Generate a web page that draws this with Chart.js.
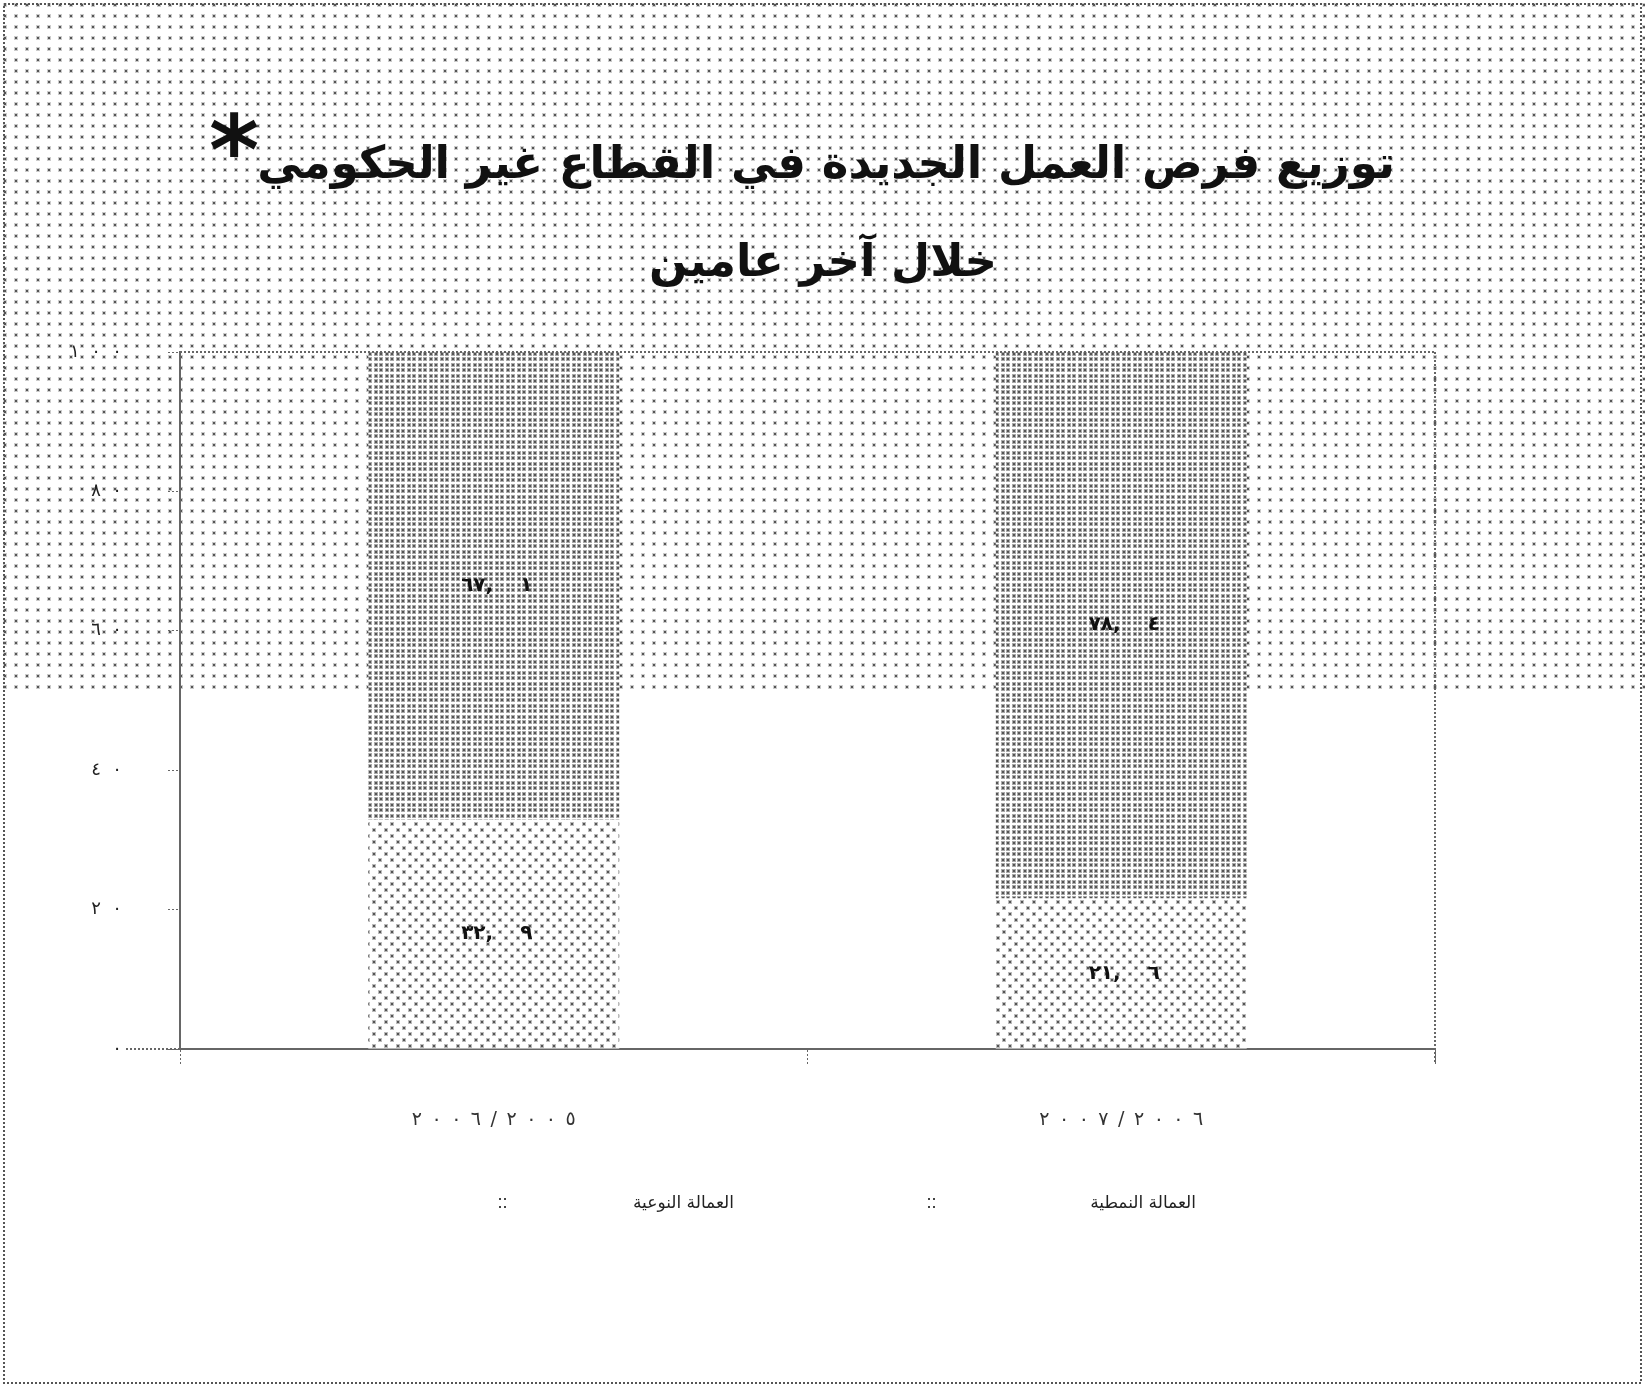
<!DOCTYPE html>
<html lang="ar">
<head>
<meta charset="utf-8">
<script src="https://cdn.jsdelivr.net/npm/chart.js@4.4.1/dist/chart.umd.min.js"></script>
<style>
  html, body { margin: 0; padding: 0; background: #fff; }
  #c { display: block; }
</style>
</head>
<body>
<canvas id="c" width="1645" height="1387"></canvas>
<script>
// ---- data ----
const titleLine1 = 'توزيع فرص العمل الجديدة في القطاع غير الحكومي';
const titleMark = '*';
const titleLine2 = 'خلال آخر عامين';
const categories = ['٢٠٠٦/٢٠٠٥', '٢٠٠٧/٢٠٠٦'];
const seriesNames = ['العمالة النمطية', 'العمالة النوعية'];
const bottomValues = [32.9, 21.6];
const topValues = [67.1, 78.4];
const yTickValues = [0, 20, 40, 60, 80, 100];

// ---- helpers ----
const AR_DIGITS = '٠١٢٣٤٥٦٧٨٩';
const LRO = '\u202D', PDF = '\u202C';
function toAr(v) {
  return String(v).replace(/[0-9]/g, d => AR_DIGITS[+d]);
}
// spread characters apart (the source uses widely spaced digits), keep LTR order
function spread(s, gap) {
  return LRO + Array.from(s).join(gap) + PDF;
}
function toArLabel(v) {
  return LRO + toAr(v).replace('.', ', \u2003') + PDF;
}
function makePattern(w, h, draw) {
  const c = document.createElement('canvas');
  c.width = w; c.height = h;
  const g = c.getContext('2d');
  draw(g);
  return document.getElementById('c').getContext('2d').createPattern(c, 'repeat');
}
function dot(g, x, y, dark, halo) {
  g.fillStyle = halo; g.fillRect(x - 1, y - 1, 4, 4);
  g.fillStyle = dark; g.fillRect(x, y, 2, 2);
}
const bgPattern = makePattern(11, 11, g => { g.fillStyle = '#fff'; g.fillRect(0, 0, 11, 11); dot(g, 4, 4, '#555', '#ccc'); });
const topPattern = makePattern(11, 11, g => {
  g.fillStyle = '#fff'; g.fillRect(0, 0, 11, 11);
  dot(g, 1, 1, '#555', '#aaa'); dot(g, 6, 1, '#555', '#aaa');
  dot(g, 1, 6, '#555', '#aaa'); dot(g, 6, 6, '#555', '#aaa');
});
const bottomPattern = makePattern(12, 12, g => {
  g.fillStyle = '#fff'; g.fillRect(0, 0, 12, 12);
  dot(g, 1, 1, '#555', '#bbb'); dot(g, 7, 7, '#555', '#bbb');
});

const FONT = '"DejaVu Sans", sans-serif';

const decorPlugin = {
  id: 'decor',
  beforeDraw(chart) {
    const ctx = chart.ctx, W = chart.width, H = chart.height;
    ctx.save();
    ctx.fillStyle = '#fff'; ctx.fillRect(0, 0, W, H);
    ctx.fillStyle = bgPattern; ctx.fillRect(0, 0, W, 693);
    ctx.restore();
  },
  afterDraw(chart) {
    const ctx = chart.ctx, W = chart.width, H = chart.height, a = chart.chartArea;
    ctx.save();
    // outer dotted frame
    ctx.strokeStyle = '#555'; ctx.lineWidth = 2; ctx.setLineDash([2, 2]);
    ctx.strokeRect(4, 4, W - 8, H - 8);
    // plot frame top/right + axis extension
    ctx.strokeStyle = '#666';
    ctx.beginPath();
    ctx.moveTo(a.left, a.top); ctx.lineTo(a.right, a.top);
    ctx.moveTo(a.right, a.top); ctx.lineTo(a.right, a.bottom + 14);
    ctx.moveTo(126, a.bottom); ctx.lineTo(a.left, a.bottom);
    ctx.stroke();
    ctx.setLineDash([]);

    // title
    ctx.fillStyle = '#111';
    ctx.textAlign = 'center'; ctx.textBaseline = 'alphabetic';
    ctx.font = 'bold 100px ' + FONT;
    const w100 = ctx.measureText(titleLine1).width;
    const size = 100 * 1138 / w100;
    ctx.font = 'bold ' + size.toFixed(1) + 'px ' + FONT;
    const cx1 = 826;
    ctx.fillText(titleLine1, cx1, 178);
    const lw = ctx.measureText(titleLine1).width;
    ctx.fillText(titleLine2, 823, 276);
    ctx.font = 'bold 96px ' + FONT;
    ctx.textAlign = 'right';
    ctx.fillText(titleMark, cx1 - lw / 2 + 2, 184);

    // legend
    ctx.font = '17px ' + FONT;
    ctx.textAlign = 'right'; ctx.textBaseline = 'middle';
    const legendItems = [
      { text: seriesNames[0], right: 1196, mark: 928 },
      { text: seriesNames[1], right: 734, mark: 499 }
    ];
    legendItems.forEach(it => {
      ctx.fillStyle = '#222';
      ctx.fillText(it.text, it.right, 1204);
      ctx.fillStyle = '#444';
      ctx.fillRect(it.mark, 1198, 2, 2); ctx.fillRect(it.mark + 5, 1198, 2, 2);
      ctx.fillRect(it.mark, 1206, 2, 2); ctx.fillRect(it.mark + 5, 1206, 2, 2);
    });
    ctx.restore();
  },
  afterDatasetsDraw(chart) {
    const ctx = chart.ctx;
    ctx.save();
    ctx.font = 'bold 20px ' + FONT;
    ctx.fillStyle = '#111';
    ctx.textAlign = 'center'; ctx.textBaseline = 'middle';
    chart.data.datasets.forEach((ds, di) => {
      chart.getDatasetMeta(di).data.forEach((el, i) => {
        const y = (el.y + el.base) / 2;
        ctx.fillText(toArLabel(ds.data[i]), el.x + 3, y);
      });
    });
    ctx.restore();
  }
};

new Chart(document.getElementById('c'), {
  type: 'bar',
  data: {
    labels: categories,
    datasets: [
      { label: seriesNames[0], data: bottomValues, backgroundColor: bottomPattern, borderWidth: 0 },
      { label: seriesNames[1], data: topValues, backgroundColor: topPattern, borderWidth: 0 }
    ]
  },
  options: {
    responsive: false,
    devicePixelRatio: 1,
    animation: false,
    layout: { padding: { top: 352, right: 210, left: 0, bottom: 0 } },
    datasets: { bar: { categoryPercentage: 1, barPercentage: 0.4 } },
    plugins: { legend: { display: false }, title: { display: false }, tooltip: { enabled: false } },
    scales: {
      x: {
        stacked: true,
        grid: { offset: true, drawOnChartArea: false, drawTicks: true, tickLength: 16, color: '#666', tickBorderDash: [2, 2] },
        border: { display: true, color: '#666', width: 2, dash: [2, 3] },
        ticks: {
          padding: 44, color: '#333', font: { family: FONT, size: 19 },
          callback: function (v) { return spread(this.getLabelForValue(v), '\u2002'); }
        },
        afterFit: s => { s.height = 338; }
      },
      y: {
        stacked: true,
        min: 0, max: 100,
        afterBuildTicks: s => { s.ticks = yTickValues.map(v => ({ value: v })); },
        grid: { drawOnChartArea: false, drawTicks: true, tickLength: 12, color: '#666', tickBorderDash: [2, 2] },
        border: { display: true, color: '#666', width: 2, dash: [2, 3] },
        ticks: { padding: 46, color: '#222', font: { family: FONT, size: 18 }, callback: v => spread(toAr(v), '\u2007') },
        afterFit: s => { s.width = 180; }
      }
    }
  },
  plugins: [decorPlugin]
});
</script>
</body>
</html>
